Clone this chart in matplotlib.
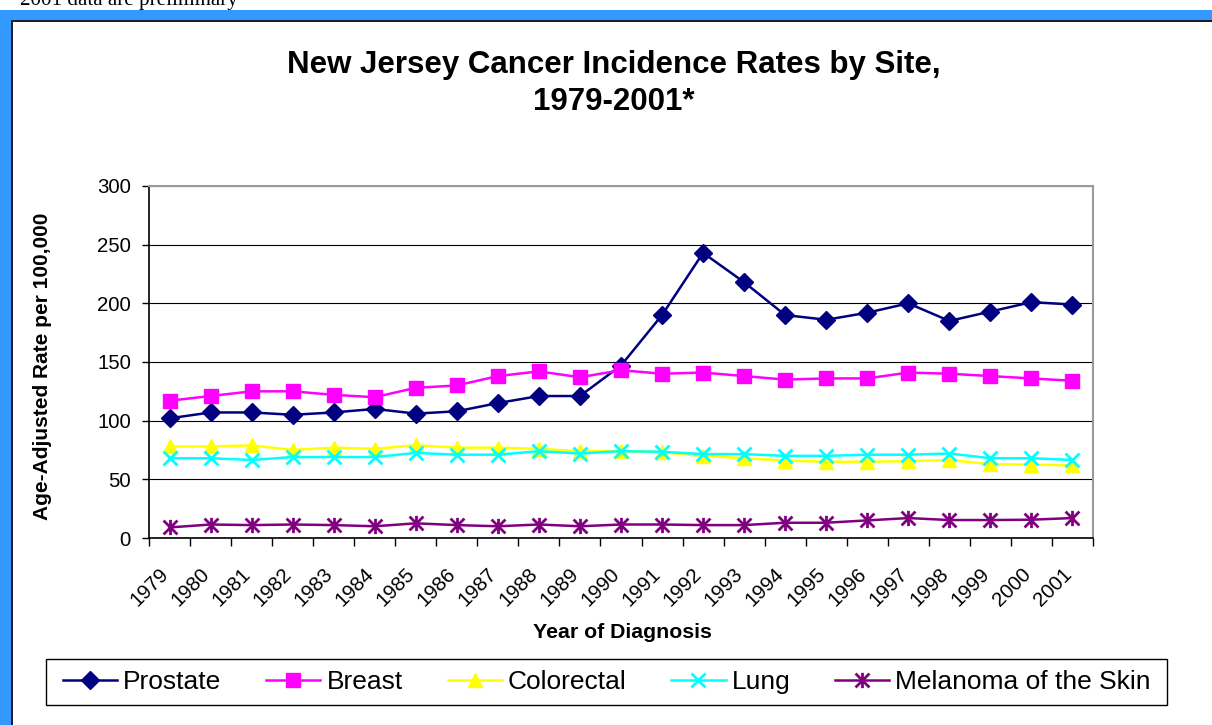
import matplotlib
matplotlib.use('Agg')
import numpy as np
import matplotlib.pyplot as plt
from matplotlib.path import Path
from matplotlib.patches import Rectangle
import matplotlib.transforms as mtransforms

plt.rcParams['font.family'] = ['Liberation Sans', 'DejaVu Sans']

# ---------------- data ----------------
years = ['1979', '1980', '1981', '1982', '1983', '1984', '1985', '1986', '1987',
         '1988', '1989', '1990', '1991', '1992', '1993', '1994', '1995', '1996',
         '1997', '1998', '1999', '2000', '2001']
prostate = [102, 107, 107, 105, 107, 110, 106, 108, 115, 121, 121, 147, 190,
            243, 218, 190, 186, 192, 200, 185, 193, 201, 199]
breast = [117, 121, 125, 125, 122, 120, 128, 130, 138, 142, 137, 143, 140,
          141, 138, 135, 136, 136, 141, 140, 138, 136, 134]
colorectal = [78, 78, 79, 75, 77, 76, 79, 77, 77, 76, 74, 74, 73, 70, 68, 66,
              65, 65, 65.5, 66.5, 63, 62.5, 62]
lung = [68, 68, 66.5, 69, 69, 69, 72.5, 71, 71, 74, 72, 74, 73.5, 71.5, 71.5,
        70, 70, 71, 71, 72, 68, 68, 66.5]
melanoma = [9, 11.5, 11, 11.5, 11, 10, 12.5, 11, 10, 11.5, 10, 11.5, 11.5, 11,
            11, 13, 13, 15, 17, 15.3, 15.3, 15.6, 17]
series_names = ['Prostate', 'Breast', 'Colorectal', 'Lung', 'Melanoma of the Skin']
yticks = [0, 50, 100, 150, 200, 250, 300]

W, H = 1212, 725
fig = plt.figure(figsize=(W / 100, H / 100), dpi=100)
fig.patch.set_facecolor('white')


def frect(x0, y0, x1, y1, fc, ec='none', lw=0, z=0):
    fig.patches.append(Rectangle((x0 / W, 1 - y1 / H), (x1 - x0) / W, (y1 - y0) / H,
                                 transform=fig.transFigure, facecolor=fc,
                                 edgecolor=ec, linewidth=lw, zorder=z))


# window-like border
frect(0, 10, W, 20, '#3399FF')
frect(0, 10, 11, H, '#3399FF')
frect(11, 19.5, W, 21.5, '#1E1E2A')
frect(11, 19.5, 13, H, '#1E1E2A')

fig.text(20 / W, 1 - 5 / H, '2001 data are preliminary', family=['Liberation Serif'],
         fontsize=15.2, va='baseline', ha='left')

# title
fig.text(614 / W, 1 - 73 / H, 'New Jersey Cancer Incidence Rates by Site,',
         fontsize=22.5, weight='bold', ha='center', va='baseline')
fig.text(614 / W, 1 - 110 / H, '1979-2001*',
         fontsize=22.5, weight='bold', ha='center', va='baseline')

ax = fig.add_axes([149 / W, 1 - 538 / H, (1093 - 149) / W, (538 - 186) / H])
x = np.arange(len(years))

star = Path([(-1, -1), (1, 1), (-1, 1), (1, -1), (0, -1.1), (0, 1.1)],
            [Path.MOVETO, Path.LINETO] * 3)

ax.plot(x, prostate, color='#000080', lw=1.8, marker='D', ms=9, label=series_names[0], zorder=3)
ax.plot(x, breast, color='#FF00FF', lw=1.8, marker='s', ms=10, label=series_names[1], zorder=3)
ax.plot(x, colorectal, color='#FFFF00', lw=1.8, marker='^', ms=10, label=series_names[2], zorder=3)
ax.plot(x, lung, color='#00FFFF', lw=1.8, marker='x', ms=10, mew=2, label=series_names[3], zorder=3)
ax.plot(x, melanoma, color='#800080', lw=1.8, marker=star, ms=11, mew=2,
        mfc='none', mec='#800080', label=series_names[4], zorder=3)

ax.set_xlim(-0.5, len(years) - 0.5)
ax.set_ylim(0, 300)
ax.set_yticks(yticks)
ax.tick_params(axis='y', length=5, width=1, pad=8, labelsize=14.7, direction='out')
ax.yaxis.grid(True, color='black', lw=0.8)
ax.set_axisbelow(True)

ax.set_xticks(x)
ax.set_xticklabels(years)
ax.set_xticks(np.arange(-0.5, len(years), 1), minor=True)
ax.tick_params(axis='x', which='major', length=0, pad=24, labelsize=14.7)
ax.tick_params(axis='x', which='minor', length=6, width=1, direction='out')
offset = mtransforms.ScaledTranslation(-4 / 100, 0, fig.dpi_scale_trans)
for lbl in ax.get_xticklabels():
    lbl.set_rotation(45)
    lbl.set_ha('right')
    lbl.set_va('center')
    lbl.set_rotation_mode('anchor')
    lbl.set_transform(lbl.get_transform() + offset)

for s in ['left', 'bottom']:
    ax.spines[s].set_color('black')
    ax.spines[s].set_linewidth(1.2)
for s in ['top', 'right']:
    ax.spines[s].set_color('#9A9A9A')
    ax.spines[s].set_linewidth(1.5)

fig.text(43 / W, 1 - 366 / H, 'Age-Adjusted Rate per 100,000', rotation=90,
         fontsize=15, weight='bold', ha='center', va='center')
fig.text(622 / W, 1 - 632 / H, 'Year of Diagnosis', fontsize=15.3, weight='bold',
         ha='center', va='center')

# legend
frect(46, 659, 1167, 705, 'none', ec='black', lw=1, z=1)
handles, labels = ax.get_legend_handles_labels()
fig.legend(handles, labels, loc='center', bbox_to_anchor=(607 / W, 1 - 682 / H),
           bbox_transform=fig.transFigure, ncol=5, frameon=False, fontsize=19,
           handlelength=2.05, handletextpad=0.23, columnspacing=1.7,
           borderpad=0, borderaxespad=0, numpoints=1)

fig.savefig('out.png', dpi=100, facecolor='white')
